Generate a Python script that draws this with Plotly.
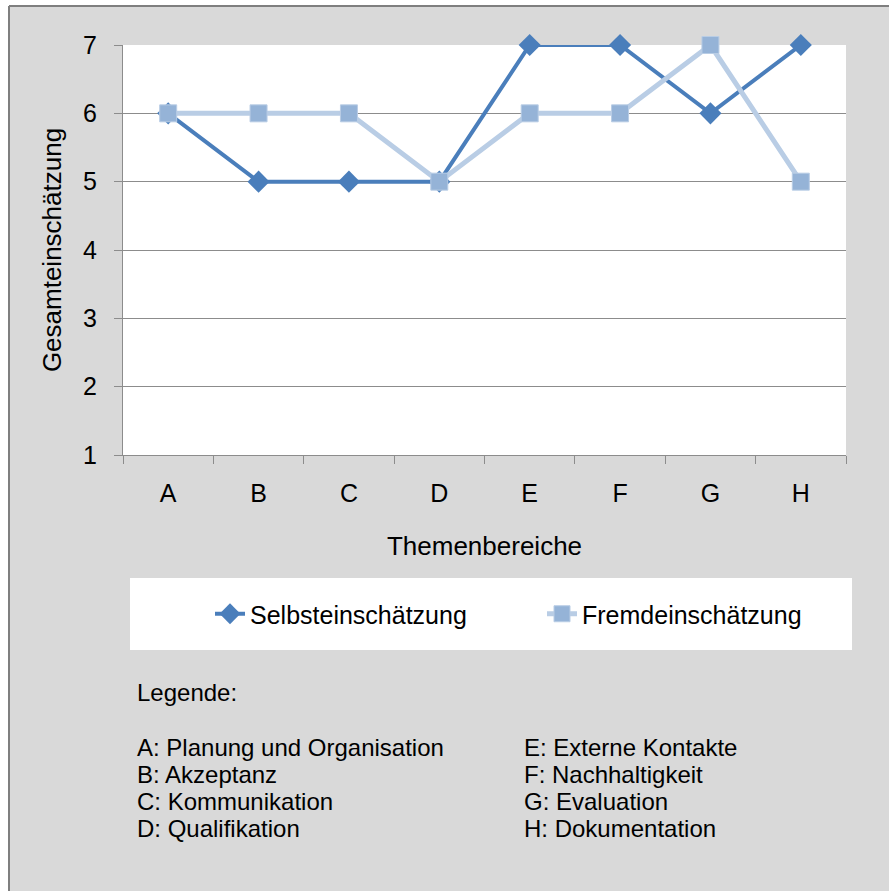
import plotly.graph_objects as go

categories = ["A", "B", "C", "D", "E", "F", "G", "H"]
selbst = [6, 5, 5, 5, 7, 7, 6, 7]
fremd = [6, 6, 6, 5, 6, 6, 7, 5]
y_ticks = [1, 2, 3, 4, 5, 6, 7]
legend_left = ["A: Planung und Organisation", "B: Akzeptanz", "C: Kommunikation", "D: Qualifikation"]
legend_right = ["E: Externe Kontakte", "F: Nachhaltigkeit", "G: Evaluation", "H: Dokumentation"]

W, H = 889, 891
L, R, T, B = 123, 846, 45, 455

def px(x):
    return (x - L) / (R - L)

def py(y):
    return (B - y) / (B - T)

FONT = "Liberation Sans, Arial, sans-serif"

fig = go.Figure()
fig.add_trace(go.Scatter(
    x=categories, y=selbst, name="Selbsteinschätzung", mode="lines+markers",
    line=dict(color="#4a7ebb", width=4),
    marker=dict(symbol="diamond", size=17, color="#4a7ebb"),
    cliponaxis=False))
fig.add_trace(go.Scatter(
    x=categories, y=fremd, name="Fremdeinschätzung", mode="lines+markers",
    line=dict(color="#b9cde5", width=5),
    marker=dict(symbol="square", size=17, color="#95b3d7", line=dict(color="#b9cde5", width=1)),
    cliponaxis=False))

shapes = [
    dict(type="rect", xref="paper", yref="paper", x0=px(-5), x1=px(9), y0=py(H + 5), y1=py(-5),
         fillcolor="white", line=dict(width=0), layer="below"),
    dict(type="rect", xref="paper", yref="paper", x0=px(-5), x1=px(W + 5), y0=py(6), y1=py(-5),
         fillcolor="white", line=dict(width=0), layer="below"),
    dict(type="line", xref="paper", yref="paper", x0=px(9), x1=px(9), y0=py(6), y1=py(H + 5),
         line=dict(color="#7f7f7f", width=2), layer="below"),
    dict(type="line", xref="paper", yref="paper", x0=px(9), x1=px(W + 5), y0=py(6), y1=py(6),
         line=dict(color="#7f7f7f", width=2), layer="below"),
    dict(type="rect", xref="paper", yref="paper", x0=px(130), x1=px(852), y0=py(650), y1=py(578),
         fillcolor="white", line=dict(width=0), layer="below"),
]

annotations = [dict(text="Legende:", x=px(135), y=py(692), xref="paper", yref="paper",
                    xanchor="left", yanchor="middle", showarrow=False,
                    font=dict(size=24, color="black", family=FONT))]
for i, (a, b) in enumerate(zip(legend_left, legend_right)):
    yy = py(747 + 27 * i)
    annotations.append(dict(text=a, x=px(135), y=yy, xref="paper", yref="paper",
                            xanchor="left", yanchor="middle", showarrow=False,
                            font=dict(size=24, color="black", family=FONT)))
    annotations.append(dict(text=b, x=px(522), y=yy, xref="paper", yref="paper",
                            xanchor="left", yanchor="middle", showarrow=False,
                            font=dict(size=24, color="black", family=FONT)))

fig.update_layout(
    width=W, height=H,
    margin=dict(l=L, r=W - R, t=T, b=H - B, pad=0),
    paper_bgcolor="#d9d9d9", plot_bgcolor="white",
    font=dict(family=FONT, size=24, color="black"),
    shapes=shapes, annotations=annotations,
    showlegend=True,
    legend=dict(orientation="h", xref="container", yref="container",
                x=210 / W, y=1 - 614 / H, xanchor="left", yanchor="middle",
                bgcolor="rgba(0,0,0,0)", font=dict(size=25, color="black", family=FONT),
                entrywidth=287),
    xaxis=dict(
        type="category", categoryarray=categories, range=[-0.5, 7.5],
        showgrid=False, showline=True, linecolor="#8c8c8c", linewidth=1,
        ticks="outside", tickson="boundaries", ticklen=8, tickcolor="#8c8c8c",
        tickfont=dict(size=25, family=FONT), ticklabelstandoff=16,
        title=dict(text="Themenbereiche", font=dict(size=26, family=FONT), standoff=30),
        zeroline=False, fixedrange=True),
    yaxis=dict(
        range=[1, 7], tickvals=y_ticks, showgrid=True, gridcolor="#8c8c8c", gridwidth=1,
        showline=True, linecolor="#8c8c8c", linewidth=1,
        ticks="outside", ticklen=8, tickcolor="#8c8c8c",
        tickfont=dict(size=25, family=FONT), ticklabelstandoff=12,
        title=dict(text="Gesamteinschätzung", font=dict(size=26, family=FONT), standoff=13),
        zeroline=False, fixedrange=True),
)

fig.write_html("out.html", config={"displayModeBar": False},
               post_script="document.body.style.margin='0px';")
